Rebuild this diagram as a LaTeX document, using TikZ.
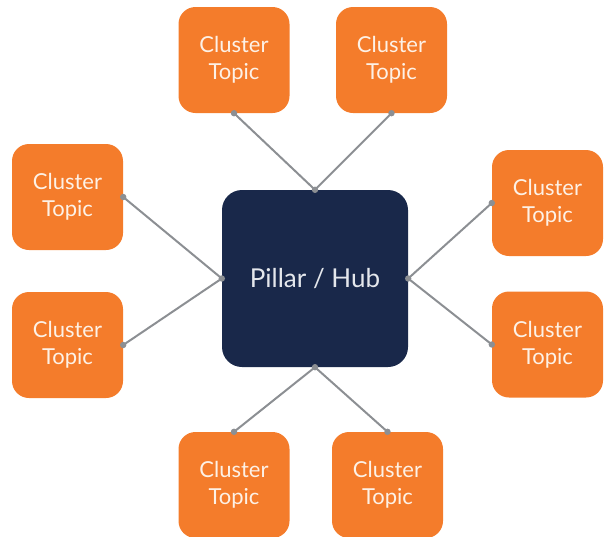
\documentclass[tikz,border=0pt]{standalone}
\usepackage{fontspec}
\setmainfont{Lato}
\definecolor{hubnavy}{HTML}{19284A}
\definecolor{clorange}{HTML}{F47C2B}
\definecolor{linegray}{HTML}{8C8F93}
\definecolor{cltext}{HTML}{FDF1E6}
\definecolor{hubtext}{HTML}{E4E7EC}
\tikzset{
  cluster/.style={rectangle, rounded corners=17pt, fill=clorange, minimum width=111pt, minimum height=106pt, align=center, text=cltext, font=\fontsize{22}{27}\selectfont, inner sep=0pt},
  hub/.style={rectangle, rounded corners=20pt, fill=hubnavy, minimum width=186pt, minimum height=177pt, text=hubtext, font=\fontsize{26}{30}\selectfont, inner sep=0pt},
  link/.style={draw=linegray, line width=2pt},
  enddot/.style={fill=linegray}
}
\begin{document}
\begin{tikzpicture}[x=1pt,y=-1pt]
\useasboundingbox (0,0) rectangle (607,536);
\node[hub] (hub) at (315,278.5) {Pillar / Hub};
\node[cluster] (tl) at (234,60) {Cluster\\Topic};
\node[cluster] (tr) at (391.5,60) {Cluster\\Topic};
\node[cluster] (lu) at (67.5,197) {Cluster\\Topic};
\node[cluster] (ll) at (67.5,345) {Cluster\\Topic};
\node[cluster] (ru) at (547.5,203) {Cluster\\Topic};
\node[cluster] (rl) at (547.5,344.5) {Cluster\\Topic};
\node[cluster] (bl) at (234,485) {Cluster\\Topic};
\node[cluster] (br) at (387.5,485) {Cluster\\Topic};
\draw[link] (tl.south) -- (hub.north);
\draw[link] (tr.south) -- (hub.north);
\draw[link] (lu.east) -- (hub.west);
\draw[link] (ll.east) -- (hub.west);
\draw[link] (ru.west) -- (hub.east);
\draw[link] (rl.west) -- (hub.east);
\draw[link] (bl.north) -- (hub.south);
\draw[link] (br.north) -- (hub.south);
\foreach \a in {tl.south,tr.south,lu.east,ll.east,ru.west,rl.west,bl.north,br.north,hub.north,hub.south,hub.west,hub.east}
  \fill[enddot] (\a) circle (3.2pt);
\end{tikzpicture}
\end{document}
